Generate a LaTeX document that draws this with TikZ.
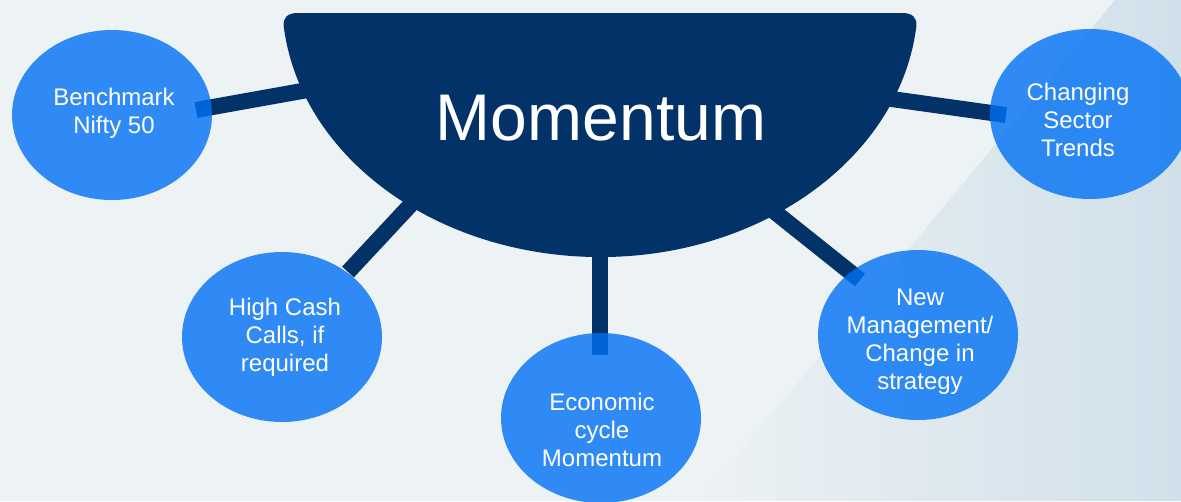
\documentclass[tikz,border=0pt]{standalone}
\usepackage{fontspec}
\setmainfont{Liberation Sans}
\usetikzlibrary{shapes.geometric}
\definecolor{navy}{RGB}{3,50,105}
\definecolor{bubblec}{RGB}{0,113,245}
\definecolor{bgA}{RGB}{237,242,245}
\definecolor{bgB}{RGB}{236,241,244}
\definecolor{bgC}{RGB}{208,224,234}
\begin{document}
\begin{tikzpicture}[x=0.75pt,y=0.75pt,
  bubble/.style={ellipse, fill=bubblec, fill opacity=0.8, inner sep=0pt,
                 minimum width=150pt, minimum height=127.5pt},
  lbl/.style={text=white, align=center, font=\fontsize{18}{21}\selectfont},
  link/.style={draw=navy, line width=12pt}]
\useasboundingbox (0,0) rectangle (1181,-501);
% background
\fill[bgA] (0,0) rectangle (1181,-501);
\shade[left color=bgB, right color=bgC] (1115,0) -- (1181,0) -- (1181,-501) -- (700,-501) -- cycle;
% connector end points
\coordinate (e1) at (196,-110); \coordinate (s1) at (330,-86);
\coordinate (e2) at (1006,-115); \coordinate (s2) at (870,-96);
\coordinate (e3) at (348,-272); \coordinate (s3) at (430,-184);
\coordinate (e4) at (600,-355); \coordinate (s4) at (600,-240);
\coordinate (e5) at (860,-280); \coordinate (s5) at (746,-189);
\draw[link] (s1) -- (e1);
\draw[link] (s2) -- (e2);
\draw[link] (s3) -- (e3);
\draw[link] (s4) -- (e4);
\draw[link] (s5) -- (e5);
% bowl
\fill[navy] (300,-13) -- (902,-13) .. controls (913,-13) and (917,-18) .. (916.4,-26)
  arc[start angle=-5.8, end angle=-174.2, x radius=318, y radius=257]
  .. controls (283,-18) and (287,-13) .. (298,-13) -- cycle;
\node[text=white, font=\fontsize{49.5}{50}\selectfont, inner sep=0pt] (hub) at (601,-118) {Momentum};
% bubbles
\node[bubble] (b1) at (112,-115) {};
\node[bubble] (b2) at (1090,-114) {};
\node[bubble] (b3) at (282,-337) {};
\node[bubble] (b4) at (601,-418) {};
\node[bubble] (b5) at (918,-335) {};
% labels
\node[lbl] (t1) at (114,-113) {Benchmark\\Nifty 50};
\node[lbl] (t2) at (1078,-120) {Changing\\Sector\\Trends};
\node[lbl] (t3) at (285,-337) {High Cash\\Calls, if\\required};
\node[lbl] (t4) at (602,-430) {Economic\\cycle\\Momentum};
\node[lbl] (t5) at (920,-342) {New\\Management/\\Change in\\strategy};
\end{tikzpicture}
\end{document}
